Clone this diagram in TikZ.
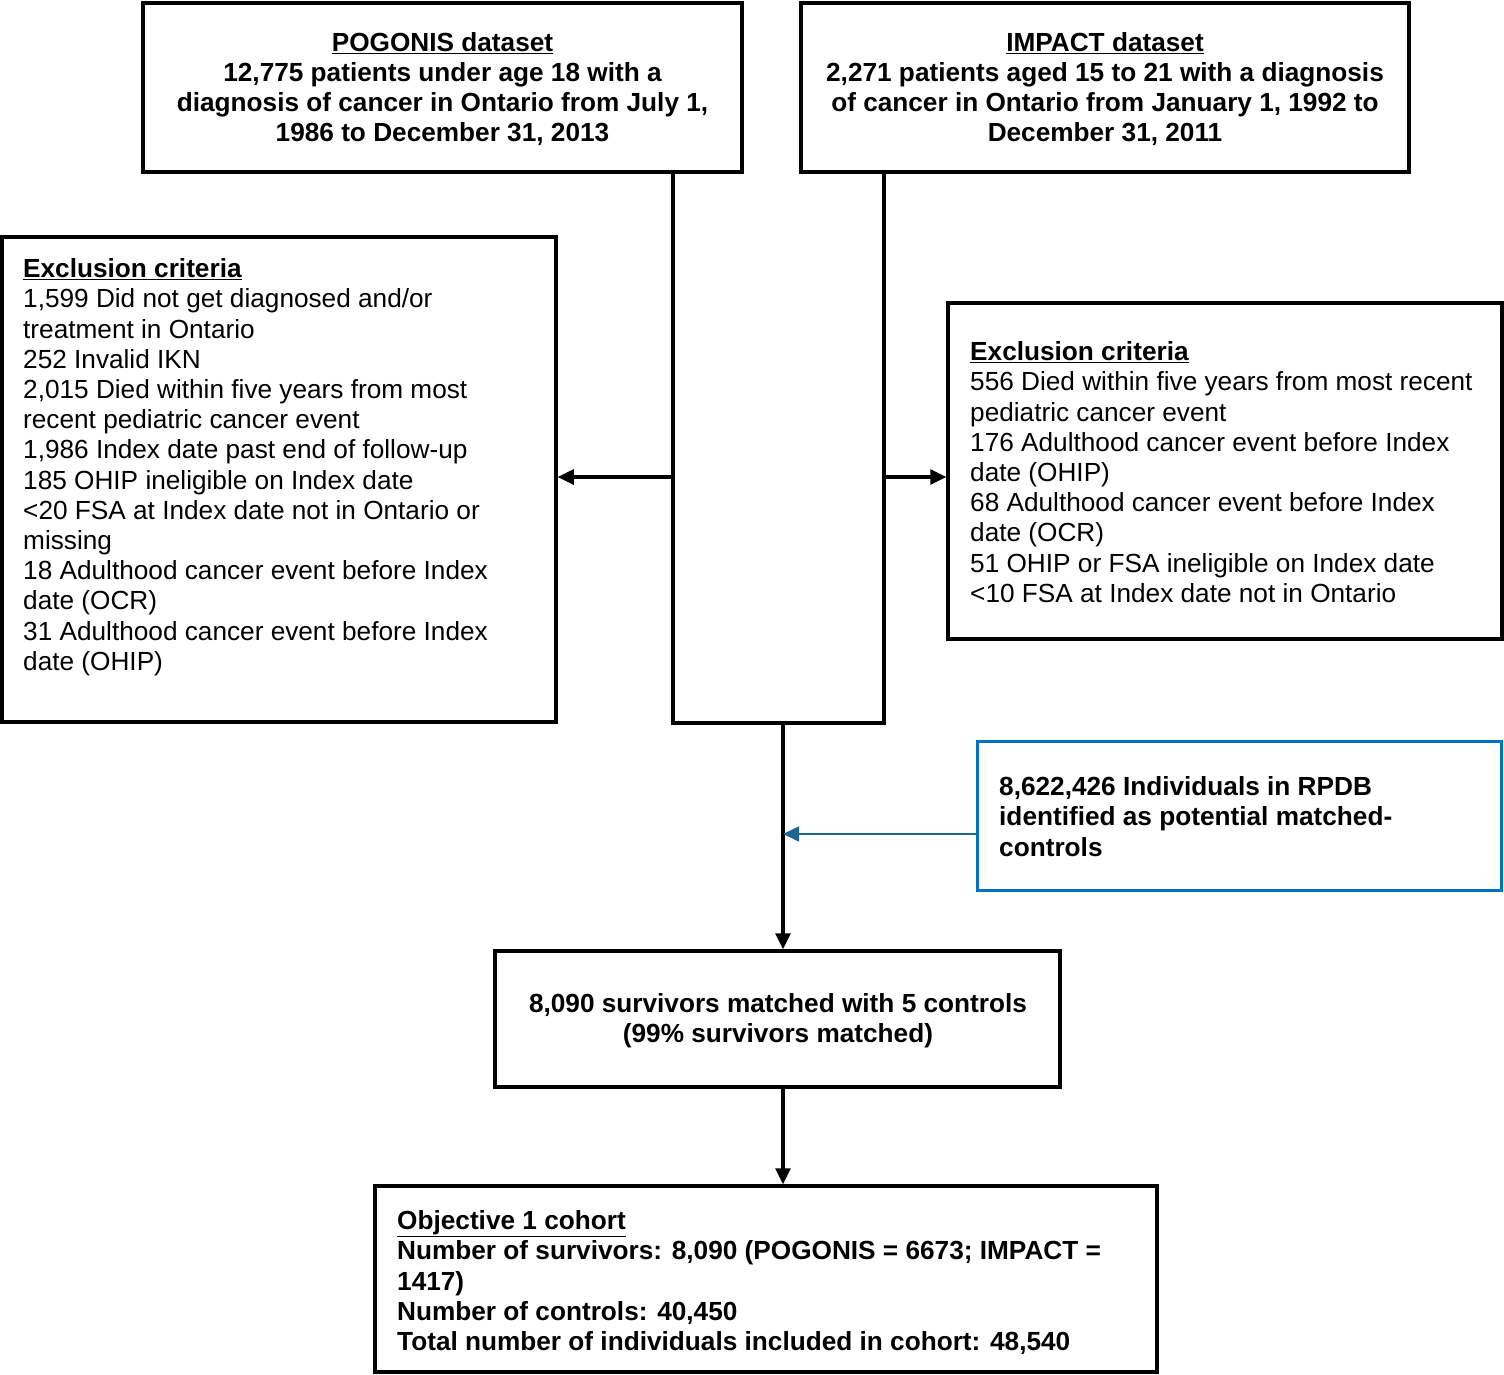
\documentclass[tikz,border=0pt]{standalone}
\usepackage{fontspec}
\setmainfont{Liberation Sans}
\usetikzlibrary{arrows.meta}
\definecolor{boxblue}{HTML}{0070C0}
\definecolor{arrblue}{HTML}{1F6391}
\tikzset{
  boxnode/.style={draw=black, line width=3.5pt, inner sep=0pt, minimum width=#1},
  txt/.style={inner sep=0pt, font=\fontsize{26.2}{30.2}\selectfont},
  btxt/.style={inner sep=0pt, font=\fontsize{26.2}{30.2}\selectfont\bfseries},
  flow/.style={line width=3.2pt, -{Triangle[length=16pt,width=15pt]}},
  thinflow/.style={line width=1.5pt, draw=arrblue, -{Triangle[length=16pt,width=15pt]}, arrblue}
}
\begin{document}
\begin{tikzpicture}[x=1pt,y=-1pt]
\useasboundingbox (0,0) rectangle (1504,1375);
% boxes
\node[boxnode=599pt, minimum height=169pt] (pog) at (442.5,87.5) {};
\node[btxt, align=center] (pogt) at (442.5,89) {\underline{POGONIS dataset}\\12,775 patients under age 18 with a\\diagnosis of cancer in Ontario from July 1,\\1986 to December 31, 2013};
\node[boxnode=608pt, minimum height=169pt] (imp) at (1105,87.5) {};
\node[btxt, align=center] (impt) at (1105,89) {\underline{IMPACT dataset}\\2,271 patients aged 15 to 21 with a diagnosis\\of cancer in Ontario from January 1, 1992 to\\December 31, 2011};
\node[boxnode=554pt, minimum height=485pt] (lex) at (279,479.5) {};
\node[txt, align=left, anchor=north west] (lext) at (23,258.5) {\textbf{\underline{Exclusion criteria}}\\1,599 Did not get diagnosed and/or\\treatment in Ontario\\252 Invalid IKN\\2,015 Died within five years from most\\recent pediatric cancer event\\1,986 Index date past end of follow-up\\185 OHIP ineligible on Index date\\<20 FSA at Index date not in Ontario or\\missing\\18 Adulthood cancer event before Index\\date (OCR)\\31 Adulthood cancer event before Index\\date (OHIP)};
\node[boxnode=554pt, minimum height=336pt] (rex) at (1225,471) {};
\node[txt, align=left, anchor=north west] (rext) at (970,341.5) {\textbf{\underline{Exclusion criteria}}\\556 Died within five years from most recent\\pediatric cancer event\\176 Adulthood cancer event before Index\\date (OHIP)\\68 Adulthood cancer event before Index\\date (OCR)\\51 OHIP or FSA ineligible on Index date\\<10 FSA at Index date not in Ontario};
\node[boxnode=524pt, minimum height=149pt, draw=boxblue, line width=3pt] (rpdb) at (1239,815.5) {};
\node[btxt, align=left, anchor=north west] (rpdbt) at (999,776.5) {8,622,426 Individuals in RPDB\\identified as potential matched-\\controls};
\node[boxnode=565pt, minimum height=136pt] (match) at (777.5,1019) {};
\node[btxt, align=center] (matcht) at (778,1021) {8,090 survivors matched with 5 controls\\(99\% survivors matched)};
\node[boxnode=782pt, minimum height=186pt] (obj) at (766,1279) {};
\node[btxt, align=left, anchor=north west] (objt) at (397,1210.5) {\underline{Objective 1 cohort}\\Number of survivors: 8,090 (POGONIS = 6673; IMPACT =\\1417)\\Number of controls: 40,450\\Total number of individuals included in cohort: 48,540};
% merging U shape
\coordinate (ul) at (673,723);
\coordinate (ur) at (884,723);
\coordinate (um) at (783,723);
\coordinate (la) at (673,477);
\coordinate (ra) at (884,477);
\coordinate (ba) at (783,834);
\draw[line width=3.5pt, line cap=rect] (pog.south -| ul) -- (ul) -- (ur) -- (imp.south -| ur);
\draw[flow] (la) -- (la -| lex.east);
\draw[flow] (ra) -- (ra -| rex.west);
\draw[flow] (um) -- (um |- match.north);
\draw[flow] (match.south -| um) -- (obj.north -| um);
\draw[thinflow] (ba -| rpdb.west) -- (ba);
\end{tikzpicture}
\end{document}
